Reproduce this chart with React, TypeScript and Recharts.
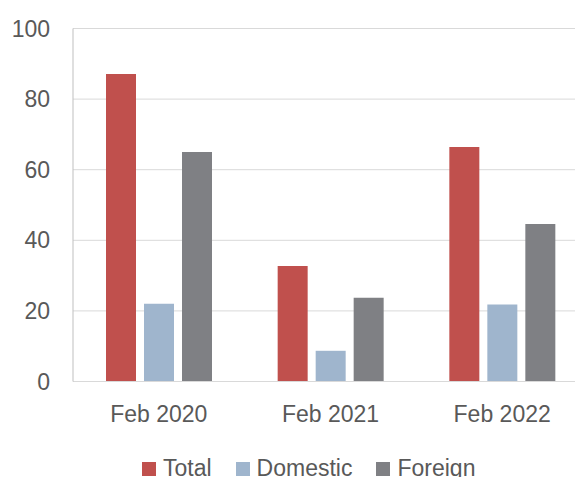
import React from 'react';
import { BarChart, Bar, XAxis, YAxis, CartesianGrid, Legend } from 'recharts';

const categories = ['Feb 2020', 'Feb 2021', 'Feb 2022'];
const totalValues = [87.1, 32.7, 66.4];
const domesticValues = [22.0, 8.7, 21.8];
const foreignValues = [65.0, 23.7, 44.6];
const yTicks = [0, 20, 40, 60, 80, 100];

const seriesNames = ['Total', 'Domestic', 'Foreign'];
const seriesColors = ['#C0504D', '#9FB5CD', '#7F8084'];

const data = categories.map((c, i) => ({
  name: c,
  Total: totalValues[i],
  Domestic: domesticValues[i],
  Foreign: foreignValues[i],
}));

const FONT = '"Liberation Sans", Arial, sans-serif';
const TEXT = '#595959';

const renderLegend = () => (
  <div
    style={{
      display: 'flex',
      alignItems: 'center',
      paddingLeft: 142,
      fontFamily: FONT,
      fontSize: 23,
      color: TEXT,
      lineHeight: 'normal',
    }}
  >
    {seriesNames.map((n, i) => (
      <div key={n} style={{ display: 'flex', alignItems: 'center', marginRight: 24 }}>
        <span style={{ display: 'inline-block', width: 14, height: 14, background: seriesColors[i], marginRight: 7 }} />
        <span>{n}</span>
      </div>
    ))}
  </div>
);

export default function App() {
  return (
    <div style={{ position: 'absolute', left: 0, top: 0, width: 575, height: 477, overflow: 'hidden', background: '#fff' }}>
      <BarChart
        width={600}
        height={477}
        data={data}
        margin={{ top: 28.5, right: 12, left: 0, bottom: 0 }}
        barSize={30}
        barGap={8}
      >
        <CartesianGrid vertical={false} stroke="#D9D9D9" />
        <XAxis
          dataKey="name"
          height={95.5}
          axisLine={{ stroke: '#D9D9D9' }}
          tickLine={false}
          tickSize={0}
          tickMargin={24}
          tick={{ fill: TEXT, fontSize: 23, fontFamily: FONT }}
        />
        <YAxis
          width={73}
          domain={[0, 100]}
          ticks={yTicks}
          axisLine={{ stroke: '#BFBFBF' }}
          tickLine={false}
          tickSize={0}
          tickMargin={23}
          tick={{ fill: TEXT, fontSize: 23, fontFamily: FONT }}
        />
        <Legend
          verticalAlign="middle"
          align="center"
          content={renderLegend}
          wrapperStyle={{ position: 'absolute', top: 455, left: 0, width: 575 }}
        />
        {seriesNames.map((n, i) => (
          <Bar key={n} dataKey={n} fill={seriesColors[i]} isAnimationActive={false} />
        ))}
      </BarChart>
    </div>
  );
}
